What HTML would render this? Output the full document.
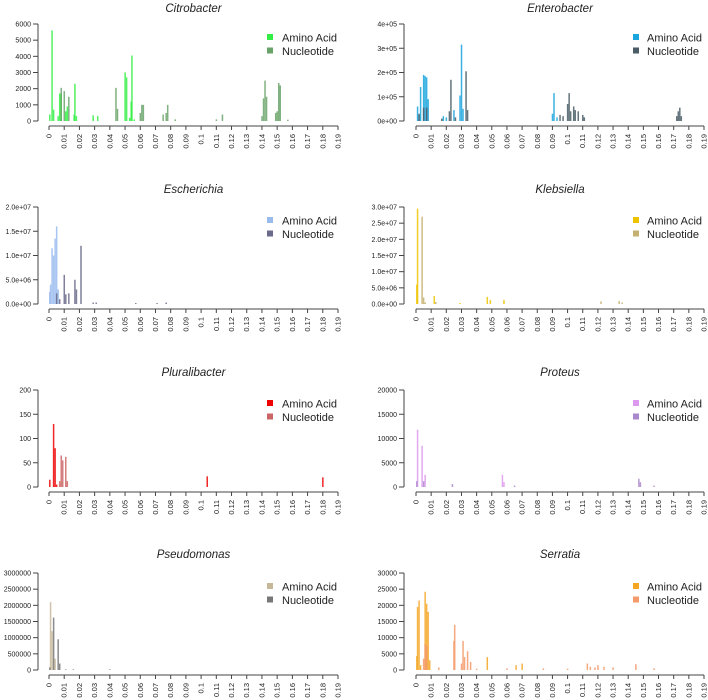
<!DOCTYPE html>
<html><head><meta charset="utf-8"><style>
body{margin:0;background:#fff;width:708px;height:700px;overflow:hidden}
svg{display:block;font-family:"Liberation Sans",sans-serif}
</style></head><body>
<svg id="chart" width="708" height="700"></svg>
<script>
const xTicks=[0,0.01,0.02,0.03,0.04,0.05,0.06,0.07,0.08,0.09,0.1,0.11,0.12,0.13,0.14,0.15,0.16,0.17,0.18,0.19];
const titles=["Citrobacter","Enterobacter","Escherichia","Klebsiella","Pluralibacter","Proteus","Pseudomonas","Serratia"];
const yTickLabels=[
 ["0","1000","2000","3000","4000","5000","6000"],
 ["0e+00","1e+05","2e+05","3e+05","4e+05"],
 ["0.0e+00","5.0e+06","1.0e+07","1.5e+07","2.0e+07"],
 ["0.0e+00","5.0e+06","1.0e+07","1.5e+07","2.0e+07","2.5e+07","3.0e+07"],
 ["0","50","100","150","200"],
 ["0","5000","10000","15000","20000"],
 ["0","500000","1000000","1500000","2000000","2500000","3000000"],
 ["0","5000","10000","15000","20000","25000","30000"]];
const yMax=[6000,400000,20000000,30000000,200,20000,3000000,30000];
const aaColors=["#33ee44","#1aa5dd","#99bbee","#eec400","#ee0000","#dd99ee","#c8b89a","#f5a623"];
const ntColors=["#6aa36a","#4a5d66","#6a6a8a","#c4b070","#cc6666","#aa88cc","#777777","#f59a6a"];
// [position, value] pairs
const aaData=[
 [[0.0005,400],[0.002,5600],[0.003,700],[0.006,300],[0.007,1700],[0.008,1700],[0.011,600],[0.012,900],[0.0165,400],[0.017,2300],[0.018,300],[0.029,350],[0.032,300],[0.050,3000],[0.051,2700],[0.053,200],[0.054,1200],[0.0545,4050],[0.056,100]],
 [[0.001,60000],[0.002,25000],[0.003,140000],[0.005,190000],[0.006,185000],[0.007,180000],[0.008,90000],[0.018,20000],[0.020,15000],[0.025,45000],[0.029,105000],[0.030,315000],[0.031,50000],[0.090,30000],[0.091,115000],[0.093,15000]],
 [[0.0005,2500000],[0.001,4000000],[0.002,11500000],[0.003,10000000],[0.004,13500000],[0.005,16000000],[0.006,3000000]],
 [[0.0005,6000000],[0.001,29500000],[0.012,2500000],[0.029,300000],[0.047,2200000],[0.049,1200000],[0.058,1300000]],
 [[0.0005,15],[0.003,130],[0.004,80],[0.005,5],[0.104,22],[0.180,20]],
 [[0.001,11800],[0.004,8500],[0.006,2500],[0.057,2500],[0.058,1000]],
 [[0.001,2100000],[0.002,1200000],[0.004,350000]],
 [[0.0005,4300],[0.001,19500],[0.002,21500],[0.003,1500],[0.006,24200],[0.007,20500],[0.008,18000],[0.009,3000],[0.047,4000],[0.066,1500],[0.070,2000]]];
const ntData=[
 [[0.008,2050],[0.010,1850],[0.013,1500],[0.044,2050],[0.045,750],[0.060,500],[0.061,1000],[0.062,1000],[0.075,400],[0.077,500],[0.078,1000],[0.083,100],[0.110,100],[0.114,400],[0.140,300],[0.141,1400],[0.142,2500],[0.143,1500],[0.149,500],[0.150,600],[0.151,2350],[0.152,2200],[0.157,80]],
 [[0.002,30000],[0.005,55000],[0.007,55000],[0.017,10000],[0.022,40000],[0.023,170000],[0.026,15000],[0.033,205000],[0.034,45000],[0.095,25000],[0.097,20000],[0.100,70000],[0.101,115000],[0.102,40000],[0.104,60000],[0.105,45000],[0.107,40000],[0.110,25000],[0.111,15000],[0.172,20000],[0.173,40000],[0.174,55000],[0.175,20000]],
 [[0.005,2200000],[0.007,1000000],[0.010,6000000],[0.011,2000000],[0.013,2200000],[0.017,5000000],[0.018,3000000],[0.021,12000000],[0.029,300000],[0.031,300000],[0.057,200000],[0.071,200000],[0.077,300000]],
 [[0.004,27000000],[0.005,2000000],[0.006,500000],[0.013,600000],[0.122,800000],[0.134,900000],[0.136,500000]],
 [[0.007,12],[0.008,65],[0.009,55],[0.011,62],[0.012,12]],
 [[0.0005,1200],[0.005,1200],[0.024,600],[0.065,300],[0.147,1700],[0.148,1000],[0.157,300]],
 [[0.0005,80000],[0.003,1620000],[0.006,950000],[0.007,200000],[0.011,20000],[0.016,20000],[0.040,20000]],
 [[0.005,3500],[0.006,8000],[0.007,7500],[0.015,800],[0.025,9000],[0.0255,14000],[0.030,2000],[0.031,9000],[0.032,4000],[0.034,5800],[0.036,2500],[0.040,400],[0.060,500],[0.084,500],[0.100,400],[0.113,2000],[0.115,1000],[0.118,800],[0.120,1500],[0.124,1000],[0.130,800],[0.145,1800],[0.157,500]]];

const NS="http://www.w3.org/2000/svg";
const svg=document.getElementById('chart');
function mk(tag,attrs,parent){const e=document.createElementNS(NS,tag);for(const k in attrs)e.setAttribute(k,attrs[k]);(parent||svg).appendChild(e);return e;}
const rowTop=[24,207,390,573];
const titleY=[12,193,376,558];
for(let i=0;i<8;i++){
 const col=i%2,row=Math.floor(i/2);
 const yAxisX=col?404:38, x0=col?416:49, x1=col?704:338;
 const yTop=rowTop[row], y0=yTop+97;
 const g=mk('g',{});
 
 
 const xs=v=>x0+(v/0.19)*(x1-x0);
 const ys=v=>y0-(v/yMax[i])*(y0-yTop);
 const t=mk('text',{x:(x0+x1)/2,y:titleY[row],'text-anchor':'middle','font-size':'11.5','font-style':'italic',fill:'#222'},g);
 t.textContent=titles[i];
 
 
 const yl=mk('line',{x1:yAxisX,x2:yAxisX,y1:y0,y2:yTop,stroke:'#444','stroke-width':1},g);
 
 
 const n=yTickLabels[i].length;
 yTickLabels[i].forEach((lab,k)=>{
  const yy=ys(yMax[i]*k/(n-1));
  mk('line',{x1:yAxisX-5,x2:yAxisX,y1:yy,y2:yy,stroke:'#444'},g);
  const tx=mk('text',{x:yAxisX-7,y:yy+2.5,'text-anchor':'end','font-size':'7',fill:'#222'},g);
  tx.textContent=lab;
  
  
 });
 const ay=y0+5;
 const xl=mk('line',{x1:x0,x2:x1,y1:ay,y2:ay,stroke:'#444'},g);
 
 
 xTicks.forEach(v=>{
  const xx=xs(v);
  mk('line',{x1:xx,x2:xx,y1:ay,y2:ay+4,stroke:'#444'},g);
  const tx=mk('text',{x:0,y:0,transform:`translate(${xx+2.5},${ay+8}) rotate(-90)`,'text-anchor':'end','font-size':'7.5',fill:'#222'},g);
  tx.textContent=String(v);
  
  
 });
 [[aaData[i],aaColors[i],'amino-acid-bar'],[ntData[i],ntColors[i],'nucleotide-bar']].forEach(([d,c,nm])=>{
  d.forEach(([p,v])=>{
   const yy=ys(v);
   const r=mk('rect',{x:xs(p)-0.7,y:yy,width:1.5,height:Math.max(0.6,y0-yy),fill:c,'fill-opacity':0.85},g);
   
   
  });
 });
 const lx=col?636:270, tx0=col?647:282;
 [['Amino Acid',aaColors[i]],['Nucleotide',ntColors[i]]].forEach(([lab,c],k)=>{
  const ly=yTop+14+k*13.5;
  const le=mk('g',{},g);
  
  
  mk('rect',{x:lx-3,y:ly-4,width:6,height:6,fill:c},le);
  const lt=mk('text',{x:tx0,y:ly+3.5,'font-size':'11',fill:'#222'},le);
  lt.textContent=lab;
 });
}
</script>
</body></html>
